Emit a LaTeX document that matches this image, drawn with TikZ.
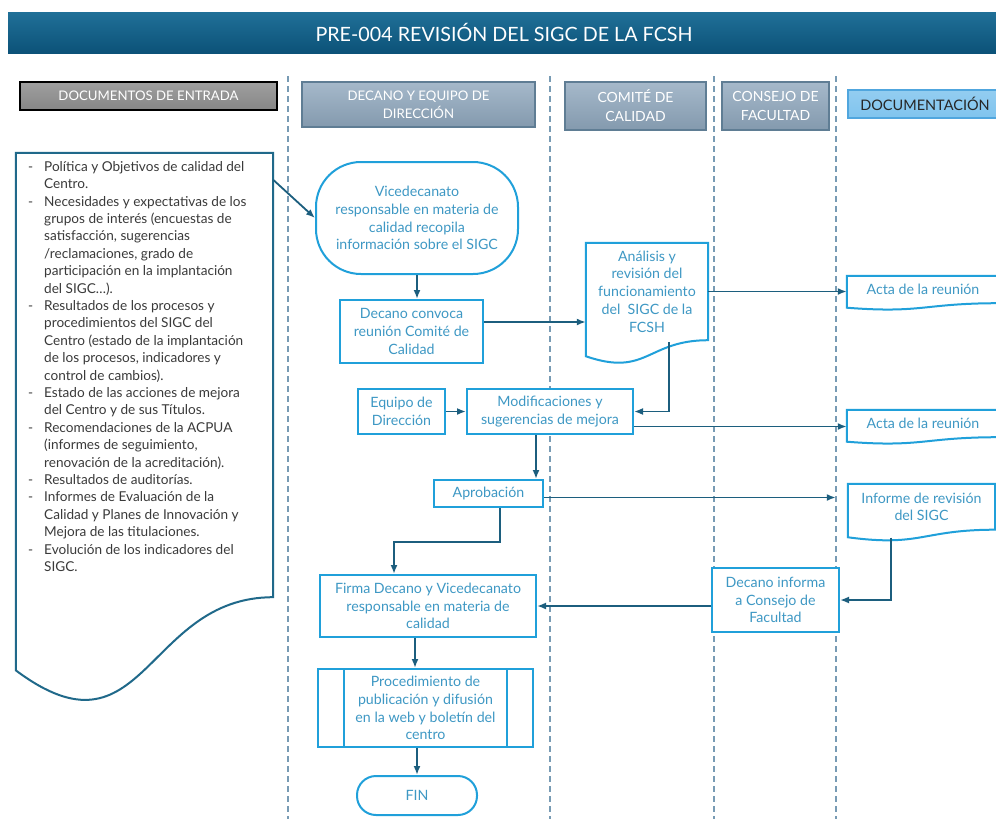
\documentclass[tikz,border=0pt]{standalone}
\usepackage{fontspec}
\setmainfont{Lato}
\usepackage{tikz}
\usetikzlibrary{positioning,arrows.meta,calc,shapes}

\definecolor{titletop}{RGB}{32,112,152}
\definecolor{titlebot}{RGB}{12,82,120}
\definecolor{headfill}{RGB}{143,167,189}
\definecolor{headborder}{RGB}{95,125,148}
\definecolor{docfill}{RGB}{128,196,238}
\definecolor{docborder}{RGB}{80,166,222}
\definecolor{flowline}{RGB}{32,160,218}
\definecolor{flowtext}{RGB}{62,152,196}
\definecolor{arrowteal}{RGB}{28,94,126}
\definecolor{docteal}{RGB}{32,105,138}
\definecolor{lanegray}{RGB}{120,155,180}
\definecolor{listgray}{RGB}{58,58,58}

\tikzstyle{lanehead}=[draw=headborder, top color=headfill!80!white, bottom color=headfill!92!black, text=white, align=center, inner sep=0pt, line width=1.2pt, font=\fontsize{13.2}{18}\selectfont]
\tikzstyle{box}=[draw=flowline, fill=white, text=flowtext, align=center, inner sep=0pt, line width=2pt, font=\fontsize{14.2}{17.7}\selectfont]
\tikzstyle{docbox}=[text=flowtext, align=center, inner sep=0pt, font=\fontsize{14.2}{17.7}\selectfont]
\tikzstyle{docline}=[draw=flowline, line width=2pt]
\tikzstyle{flow}=[->, draw=arrowteal, line width=1.8pt]
\tikzstyle{lane}=[draw=lanegray, dash pattern=on 6pt off 4pt, line width=1.2pt]
\tikzstyle{listtext}=[text=listgray, inner sep=0pt, font=\fontsize{13.6}{17.4}\selectfont]

% outline of a document shape with wavy bottom
\newcommand{\docoutline}[2]{%
  \draw[#1] (#2.north west) -- (#2.north east) -- (#2.south east)
    .. controls (#2.south) and ($(#2.north)!1.381!(#2.south)$) .. ($(#2.north west)!1.1646!(#2.south west)$) -- cycle;}

\begin{document}
\begin{tikzpicture}[x=1pt,y=-1pt,>={Latex[length=9pt,width=7pt]}]
\useasboundingbox (0,0) rectangle (996,819);
\fill[white] (0,0) rectangle (996,819);

% title
\node[top color=titletop, bottom color=titlebot, text=white, minimum width=992pt, minimum height=41pt, inner sep=0pt, font=\fontsize{19.7}{24}\selectfont] (title) at (504,32.5) {PRE-004 REVISIÓN DEL SIGC DE LA FCSH};

% lanes
\foreach \x in {288,550,714,836}
  \draw[lane] (\x,76) -- (\x,819);

\node[lanehead, draw=black, top color=gray!75, bottom color=gray!105!black, minimum width=257pt, minimum height=28pt] (hentrada) at (148.5,96) {DOCUMENTOS DE ENTRADA};
\node[lanehead, minimum width=233pt, minimum height=45pt] (hdecano) at (418.5,104.5) {DECANO Y EQUIPO DE\\ DIRECCIÓN};
\node[lanehead, minimum width=141pt, minimum height=48pt, font=\fontsize{14}{19}\selectfont] (hcomite) at (635.5,106) {COMITÉ DE\\ CALIDAD};
\node[lanehead, minimum width=107pt, minimum height=48pt, font=\fontsize{14}{19}\selectfont] (hconsejo) at (775.5,106) {CONSEJO DE\\ FACULTAD};
\node[lanehead, draw=docborder, top color=docfill!85!white, bottom color=docfill, text=black!85, minimum width=154pt, minimum height=28pt, font=\fontsize{14.5}{18}\selectfont] (hdoc) at (925,104) {DOCUMENTACIÓN};

% input documents
\node[minimum width=257pt, minimum height=444pt, inner sep=0pt] (entrada) at (144.5,375) {};
\docoutline{draw=docteal, line width=2pt}{entrada}
\node[listtext, anchor=north west] (entradatxt) at (28,159) {%
\begin{tabular}{@{}p{16pt}@{}l@{}}
- & Política y Objetivos de calidad del\\
  & Centro.\\
- & Necesidades y expectativas de los\\
  & grupos de interés (encuestas de\\
  & satisfacción, sugerencias\\
  & /reclamaciones, grado de\\
  & participación en la implantación\\
  & del SIGC…).\\
- & Resultados de los procesos y\\
  & procedimientos del SIGC del\\
  & Centro (estado de la implantación\\
  & de los procesos, indicadores y\\
  & control de cambios).\\
- & Estado de las acciones de mejora\\
  & del Centro y de sus Títulos.\\
- & Recomendaciones de la ACPUA\\
  & (informes de seguimiento,\\
  & renovación de la acreditación).\\
- & Resultados de auditorías.\\
- & Informes de Evaluación de la\\
  & Calidad y Planes de Innovación y\\
  & Mejora de las titulaciones.\\
- & Evolución de los indicadores del\\
  & SIGC.
\end{tabular}};

% process
\node[box, rounded corners=45pt, minimum width=202pt, minimum height=112pt] (vice) at (417,218) {Vicedecanato\\ responsable en materia de\\ calidad recopila\\ información sobre el SIGC};
\node[box, minimum width=143pt, minimum height=63pt] (convoca) at (411.5,331.5) {Decano convoca\\ reunión Comité de\\ Calidad};
\node[minimum width=122pt, minimum height=97pt, inner sep=0pt] (analisis) at (647,291.5) {};
\docoutline{docline, fill=white}{analisis}
\node[docbox] (analisistxt) at (analisis) {Análisis y\\ revisión del\\ funcionamiento\\ del~ SIGC de la\\ FCSH};
\node[minimum width=152pt, minimum height=27pt, inner sep=0pt] (acta1) at (923,289.5) {};
\docoutline{docline}{acta1}
\node[docbox] (acta1txt) at (acta1) {Acta de la reunión};

\node[box, minimum width=87pt, minimum height=45pt] (equipo) at (401.5,411.5) {Equipo de\\ Dirección};
\node[box, minimum width=166pt, minimum height=45pt] (modif) at (550,411.5) {Modificaciones y\\ sugerencias de mejora};
\node[minimum width=152pt, minimum height=27pt, inner sep=0pt] (acta2) at (923,423.5) {};
\docoutline{docline}{acta2}
\node[docbox] (acta2txt) at (acta2) {Acta de la reunión};

\node[box, minimum width=109pt, minimum height=27pt] (aprob) at (488.5,493.5) {Aprobación};
\node[minimum width=147pt, minimum height=45.5pt, inner sep=0pt] (informe) at (921.5,506.75) {};
\docoutline{docline}{informe}
\node[docbox] (informetxt) at (informe) {Informe de revisión\\ del SIGC};

\node[box, minimum width=127pt, minimum height=64pt] (decinf) at (775.5,600) {Decano informa\\ a Consejo de\\ Facultad};
\node[box, minimum width=216pt, minimum height=62pt] (firma) at (428,606) {Firma Decano y Vicedecanato\\ responsable en materia de\\ calidad};
\node[box, minimum width=215pt, minimum height=78pt] (proc) at (425.5,708) {Procedimiento de\\ publicación y difusión\\ en la web y boletín del\\ centro};
\draw[docline] ([xshift=27pt]proc.north west) -- ([xshift=27pt]proc.south west);
\draw[docline] ([xshift=-27pt]proc.north east) -- ([xshift=-27pt]proc.south east);
\node[box, rounded corners=19pt, minimum width=120pt, minimum height=39pt] (fin) at (417,795.5) {FIN};

% connectors
\coordinate (c0) at ([yshift=-27pt]entrada.north east);
\draw[flow] (c0) -- (vice.west);
\draw[flow] (vice.south) -- (vice.south |- convoca.north);
\coordinate (c1) at ([yshift=9.5pt]convoca.east);
\draw[flow] (c1) -- (c1 -| analisis.west);
\draw[flow] (analisis.east) -- (analisis.east -| acta1.west);
\draw[flow] ([xshift=22pt,yshift=-2pt]analisis.south) |- (modif.east);
\draw[flow] (equipo.east) -- (modif.west);
\coordinate (c2) at ([yshift=-15pt]modif.east);
\draw[flow] (c2) -- (c2 -| acta2.west);
\draw[flow] ([xshift=-14pt]modif.south) -- ([xshift=-14pt]modif.south |- aprob.north);
\coordinate (c3) at ([yshift=-4pt]aprob.east);
\draw[flow, shorten >=12pt] (c3) -- (c3 -| informe.west);
\draw[flow] ([xshift=11.5pt]aprob.south) -- ++(0,34) -| ([xshift=-34pt]firma.north);
\draw[flow] ([xshift=-30.5pt,yshift=-8pt]informe.south) |- (decinf.east);
\draw[flow] (decinf.west |- firma.east) -- (firma.east);
\draw[flow] ([xshift=-13pt]firma.south) -- ([xshift=-13pt]firma.south |- proc.north);
\draw[flow] (fin.north |- proc.south) -- (fin.north);
\end{tikzpicture}
\end{document}
